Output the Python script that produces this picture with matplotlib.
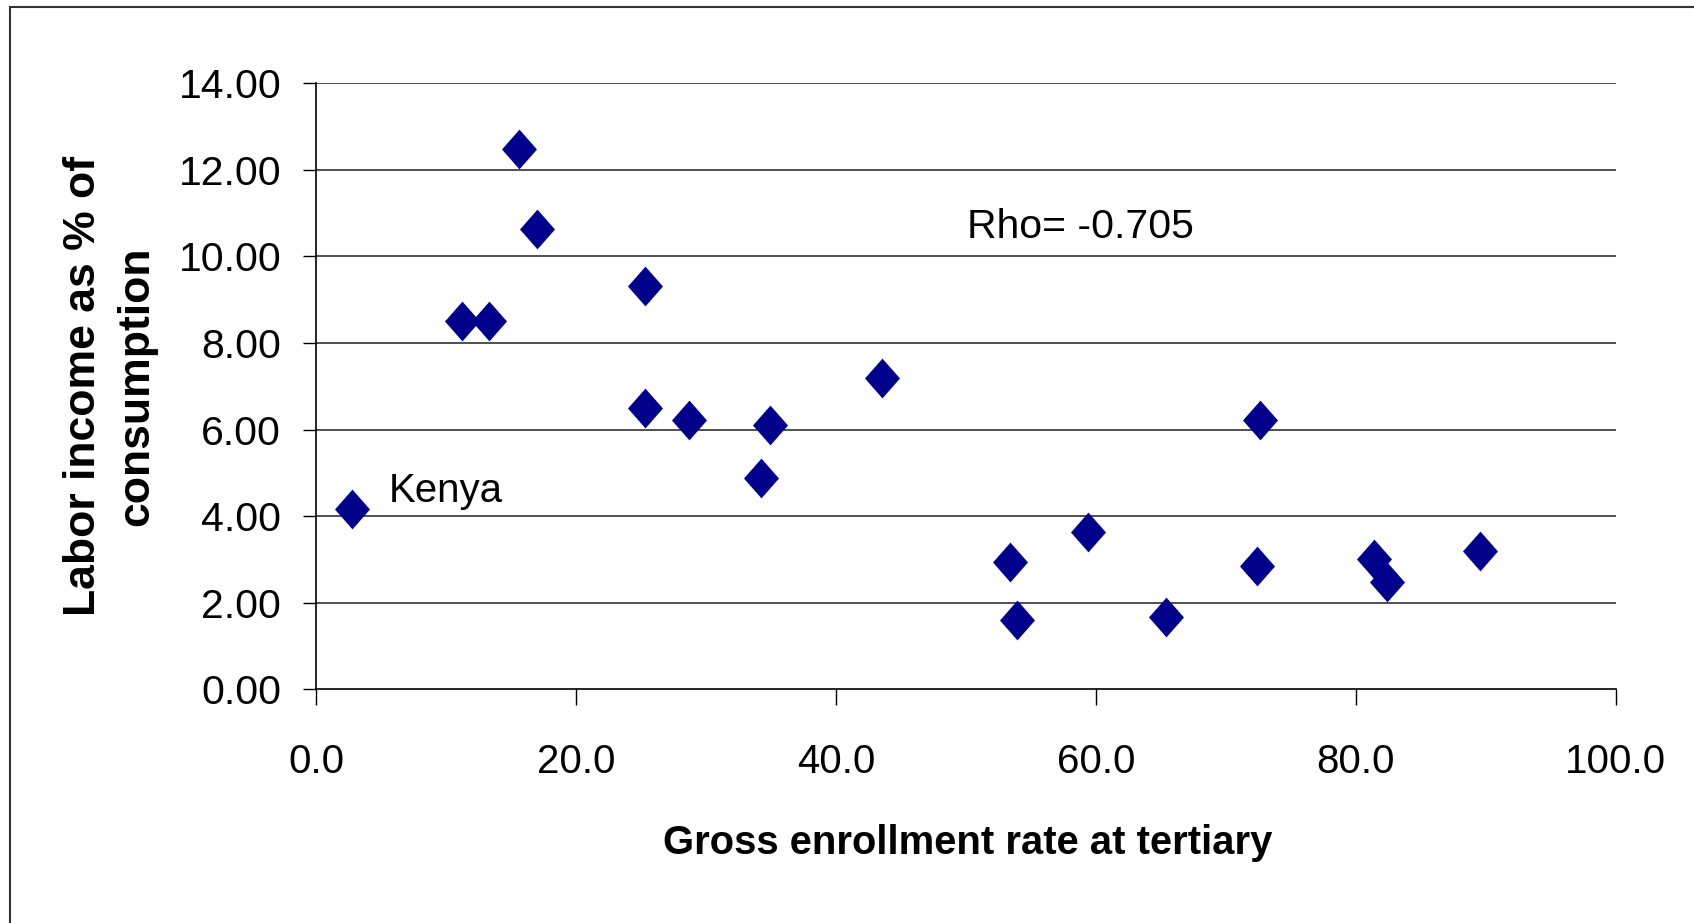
import numpy as np
import matplotlib
matplotlib.use("Agg")
import matplotlib.pyplot as plt
from matplotlib.patches import Rectangle

plt.rcParams['font.family'] = ['Liberation Sans', 'DejaVu Sans']

# values
enroll = [2.7, 11.2, 13.3, 15.6, 17.0, 25.3, 25.3, 28.7, 34.9, 34.2,
          43.5, 53.4, 53.9, 59.4, 65.4, 72.6, 72.4, 81.4, 82.4, 89.6]
labor = [4.17, 8.51, 8.51, 12.48, 10.63, 9.31, 6.49, 6.21, 6.11, 4.87,
         7.19, 2.94, 1.60, 3.64, 1.67, 6.21, 2.85, 3.02, 2.47, 3.19]
yticks = [0, 2, 4, 6, 8, 10, 12, 14]
xticks = [0, 20, 40, 60, 80, 100]

fig = plt.figure(figsize=(16.94, 9.23), dpi=100)
ax = fig.add_axes([0.1868, 0.2532, 0.7669, 0.6567])

for v in yticks[1:]:
    ax.axhline(v, color='#202020', lw=1.1, zorder=1)

# slightly tall diamond, like the original marker
diamond = [(0, 1), (0.88, 0), (0, -1), (-0.88, 0), (0, 1)]
ax.scatter(enroll, labor, marker=diamond, s=820, color='#00008B', lw=0, zorder=3)

ax.set_xlim(0, 100)
ax.set_ylim(0, 14)
ax.set_xticks(xticks)
ax.set_yticks(yticks)
ax.set_xticklabels([f"{v:.1f}" for v in xticks], fontsize=29)
ax.set_yticklabels([f"{v:.2f}" for v in yticks], fontsize=29.5)
ax.tick_params(axis='x', direction='out', length=11.5, width=1, pad=27)
ax.tick_params(axis='y', direction='out', length=9.4, width=1, pad=16)
for s in ['top', 'right']:
    ax.spines[s].set_visible(False)
for s in ['left', 'bottom']:
    ax.spines[s].set_linewidth(1.2)

ax.text(50.07, 10.68, "Rho= -0.705", fontsize=29.5, ha='left', va='center')
ax.text(5.58, 4.57, "Kenya", fontsize=29, ha='left', va='center')

fig.text(0.5714, 0.087, "Gross enrollment rate at tertiary", fontsize=28.8,
         fontweight='bold', ha='center', va='center')
fig.text(83.2 / 1694, 0.5818, "Labor income as % of", fontsize=32,
         fontweight='bold', rotation=90, ha='center', va='center')
fig.text(137 / 1694, 0.5818, "consumption", fontsize=32,
         fontweight='bold', rotation=90, ha='center', va='center')

fig.patches.append(Rectangle((10 / 1694, -0.1), 1.2, 1.1 - 7 / 923,
                             transform=fig.transFigure, fill=False,
                             edgecolor='#333333', lw=1.5))

fig.savefig("out.png", dpi=100)
